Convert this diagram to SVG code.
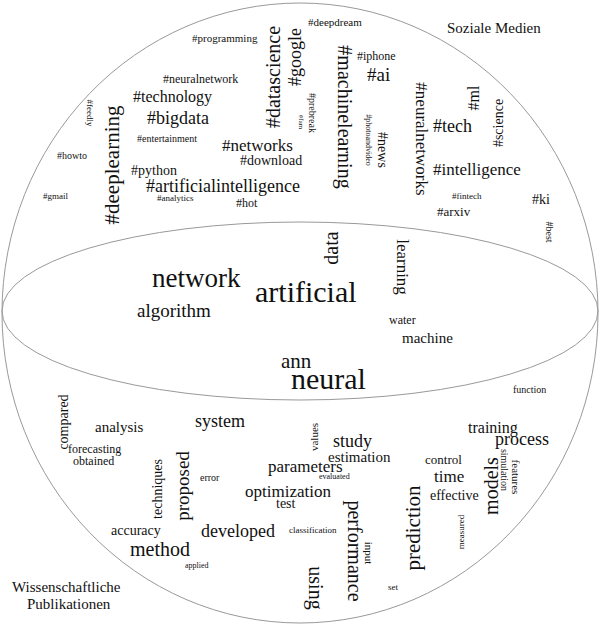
<svg xmlns="http://www.w3.org/2000/svg" width="600" height="627" viewBox="0 0 600 627">
<style>
text{fill:#111;font-family:"Liberation Serif","DejaVu Serif",Tinos,"Times New Roman",serif}
.r{text-anchor:middle;dominant-baseline:central}
.o{fill:none;stroke:#999;stroke-width:1}
</style>
<rect width="600" height="627" fill="#fff"/>
<g id="shapes">
<ellipse class="o" cx="300" cy="313" rx="298" ry="310"/>
<ellipse class="o" cx="300" cy="311" rx="298" ry="89"/>
</g>
<g id="social">
<text x="447" y="33" font-size="15">Soziale Medien</text>
<text x="192" y="42" font-size="11">#programming</text>
<text x="308" y="26" font-size="11">#deepdream</text>
<text x="163" y="83" font-size="12">#neuralnetwork</text>
<text x="133" y="102" font-size="16">#technology</text>
<text x="147" y="124" font-size="18">#bigdata</text>
<text x="137" y="142" font-size="10">#entertainment</text>
<text x="222" y="151" font-size="17">#networks</text>
<text x="240" y="165" font-size="14">#download</text>
<text x="131" y="175" font-size="14">#python</text>
<text x="146" y="192" font-size="18">#artificialintelligence</text>
<text x="157" y="201" font-size="9">#analytics</text>
<text x="236" y="207" font-size="12">#hot</text>
<text x="57" y="159" font-size="10">#howto</text>
<text x="43" y="199" font-size="9">#gmail</text>
<text class="r" font-size="9" transform="translate(90,113) rotate(90)">#feedly</text>
<text class="r" font-size="21" transform="translate(112,165) rotate(-90)">#deeplearning</text>
<text class="r" font-size="20" transform="translate(273,77) rotate(-90)">#datascience</text>
<text class="r" font-size="18" transform="translate(295,57) rotate(-90)">#google</text>
<text class="r" font-size="10" transform="translate(312,113) rotate(90)">#prebreak</text>
<text class="r" font-size="7" transform="translate(301,122) rotate(90)">#fam</text>
<text class="r" font-size="20" transform="translate(345,117) rotate(90)">#machinelearning</text>
<text x="357" y="60" font-size="12">#iphone</text>
<text x="367" y="81" font-size="19">#ai</text>
<text class="r" font-size="8" transform="translate(368,140) rotate(90)">#photoandvideo</text>
<text class="r" font-size="14" transform="translate(382,150) rotate(90)">#news</text>
<text class="r" font-size="17" transform="translate(421,139) rotate(90)">#neuralnetworks</text>
<text class="r" font-size="16" transform="translate(473,98) rotate(-90)">#ml</text>
<text x="433" y="132" font-size="18">#tech</text>
<text class="r" font-size="14" transform="translate(498,123) rotate(-90)">#science</text>
<text x="433" y="175" font-size="17">#intelligence</text>
<text x="452" y="199" font-size="9">#fintech</text>
<text x="437" y="216" font-size="13">#arxiv</text>
<text x="532" y="204" font-size="14">#ki</text>
<text class="r" font-size="10" transform="translate(549,232) rotate(90)">#best</text>
</g>
<g id="middle">
<text x="152" y="287" font-size="27">network</text>
<text x="255" y="302" font-size="30">artificial</text>
<text x="137" y="317" font-size="19">algorithm</text>
<text class="r" font-size="20" transform="translate(331,248) rotate(-90)">data</text>
<text class="r" font-size="17" transform="translate(402,267) rotate(90)">learning</text>
<text x="389" y="324" font-size="12">water</text>
<text x="402" y="343" font-size="15">machine</text>
<text x="281" y="368" font-size="21">ann</text>
<text x="291" y="389" font-size="30">neural</text>
<text x="513" y="393" font-size="10">function</text>
</g>
<g id="publications">
<text x="12" y="592" font-size="15">Wissenschaftliche</text>
<text x="27" y="609" font-size="15">Publikationen</text>
<text class="r" font-size="14" transform="translate(63,422) rotate(-90)">compared</text>
<text x="95" y="432" font-size="15">analysis</text>
<text x="68" y="453" font-size="12">forecasting</text>
<text x="73" y="465" font-size="12">obtained</text>
<text x="195" y="427" font-size="18">system</text>
<text class="r" font-size="14" transform="translate(157,489) rotate(-90)">techniques</text>
<text class="r" font-size="19" transform="translate(182,486) rotate(-90)">proposed</text>
<text x="200" y="481" font-size="10">error</text>
<text x="111" y="535" font-size="14">accuracy</text>
<text x="130" y="556" font-size="20">method</text>
<text x="185" y="568" font-size="8">applied</text>
<text x="201" y="537" font-size="18">developed</text>
<text class="r" font-size="11" transform="translate(314,437) rotate(-90)">values</text>
<text x="333" y="447" font-size="18">study</text>
<text x="328" y="462" font-size="15">estimation</text>
<text x="268" y="472" font-size="17">parameters</text>
<text x="319" y="479" font-size="8">evaluated</text>
<text x="245" y="497" font-size="17">optimization</text>
<text x="276" y="508" font-size="14">test</text>
<text x="289" y="533" font-size="9">classification</text>
<text class="r" font-size="20" transform="translate(355,551) rotate(90)">performance</text>
<text class="r" font-size="11" transform="translate(369,553) rotate(90)">input</text>
<text class="r" font-size="20" transform="translate(316,588) rotate(90)">using</text>
<text x="388" y="590" font-size="9">set</text>
<text x="468" y="433" font-size="16">training</text>
<text x="495" y="445" font-size="18">process</text>
<text x="425" y="464" font-size="13">control</text>
<text x="434" y="482" font-size="17">time</text>
<text x="430" y="500" font-size="14">effective</text>
<text class="r" font-size="20" transform="translate(491,486) rotate(-90)">models</text>
<text class="r" font-size="10" transform="translate(504,470) rotate(90)">simulation</text>
<text class="r" font-size="11" transform="translate(516,477) rotate(90)">features</text>
<text class="r" font-size="9" transform="translate(461,532) rotate(-90)">measured</text>
<text class="r" font-size="21" transform="translate(413,528) rotate(-90)">prediction</text>
</g>
</svg>
